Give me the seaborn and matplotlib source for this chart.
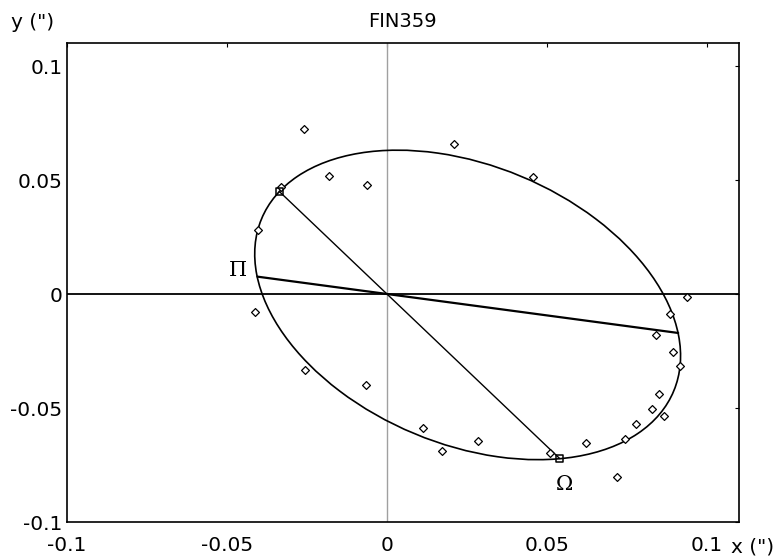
import numpy as np
import pandas as pd
import seaborn as sns
import matplotlib
matplotlib.use("Agg")
import matplotlib.pyplot as plt
from matplotlib.patches import Ellipse

# observed relative positions (arcsec)
obs_x = [-0.0259, -0.0181, -0.0061, -0.0331, -0.0401, 0.0211, 0.0457, 0.0939,
         -0.0413, -0.0254, -0.0064, 0.0886, 0.0842, 0.0896, 0.0916, 0.0852,
         0.0828, 0.0866, 0.0780, 0.0745, 0.0624, 0.0719, 0.0511, 0.0286,
         0.0174, 0.0112]
obs_y = [0.0724, 0.0518, 0.0477, 0.0468, 0.0283, 0.0657, 0.0516, -0.0014,
         -0.0080, -0.0331, -0.0397, -0.0087, -0.0177, -0.0254, -0.0315, -0.0439,
         -0.0505, -0.0534, -0.0570, -0.0637, -0.0654, -0.0802, -0.0698, -0.0645,
         -0.0688, -0.0585]

# nodes (squares) and line of apsides
node_x = [-0.0336, 0.0541]
node_y = [0.0451, -0.0721]
apsis_x = [-0.0404, 0.0911]
apsis_y = [0.0077, -0.0170]

# apparent orbit ellipse
orbit_center = (0.0253, -0.0047)
orbit_width = 0.155
orbit_height = 0.110
orbit_angle = -46.7

sns.set_style("white")
plt.rcParams['font.family'] = ['DejaVu Sans']
plt.rcParams['text.color'] = 'black'

fig = plt.figure(figsize=(7.77, 5.59), dpi=100)
ax = fig.add_axes([0.0858, 0.0657, 0.8649, 0.8568])

ax.axvline(0, color='#a0a0a0', lw=1.0, zorder=1)
ax.axhline(0, color='black', lw=1.3, zorder=1)

ax.add_patch(Ellipse(orbit_center, orbit_width, orbit_height, angle=orbit_angle,
                     fill=False, edgecolor='black', lw=1.2, zorder=2))

lines = pd.DataFrame({'x': node_x + apsis_x, 'y': node_y + apsis_y,
                      'kind': ['node', 'node', 'apsis', 'apsis']})
sns.lineplot(data=lines[lines.kind == 'node'], x='x', y='y', sort=False,
             color='black', lw=1.0, ax=ax, zorder=2)
sns.lineplot(data=lines[lines.kind == 'apsis'], x='x', y='y', sort=False,
             color='black', lw=1.6, ax=ax, zorder=2)

obs = pd.DataFrame({'x': obs_x, 'y': obs_y})
sns.scatterplot(data=obs, x='x', y='y', marker='D', s=16, facecolor='white',
                edgecolor='black', linewidth=0.9, ax=ax, zorder=3)
sns.scatterplot(x=node_x, y=node_y, marker='s', s=24, facecolor='none',
                edgecolor='black', linewidth=1.1, ax=ax, zorder=4)

ax.text(-0.0464, 0.0106, '\u03a0', fontsize=15, family='DejaVu Serif',
        ha='center', va='center')
ax.text(0.0554, -0.0833, '\u03a9', fontsize=15, family='DejaVu Serif',
        ha='center', va='center')

ax.set_xlim(-0.1, 0.11)
ax.set_ylim(-0.1, 0.11)
ax.set_xticks([-0.1, -0.05, 0, 0.05, 0.1])
ax.set_xticklabels(['-0.1', '-0.05', '0', '0.05', '0.1'])
ax.set_yticks([-0.1, -0.05, 0, 0.05, 0.1])
ax.set_yticklabels(['-0.1', '-0.05', '0', '0.05', '0.1'])
ax.tick_params(direction='in', length=3, width=0.8, top=True, right=True,
               labelsize=14.5, colors='black')
ax.tick_params(axis='x', pad=10)
ax.tick_params(axis='y', pad=3)
ax.set_xlabel('')
ax.set_ylabel('')
for sp in ax.spines.values():
    sp.set_color('black')
    sp.set_linewidth(1.2)

ax.set_title('FIN359', fontsize=14, pad=12, color='black')
fig.text(33 / 777, 1 - 23 / 559, 'y (")', fontsize=14.5, ha='center', va='center')
fig.text(731 / 777, 1 - 547 / 559, 'x (")', fontsize=14.5, ha='left', va='center')

fig.savefig('out.png', dpi=100)
